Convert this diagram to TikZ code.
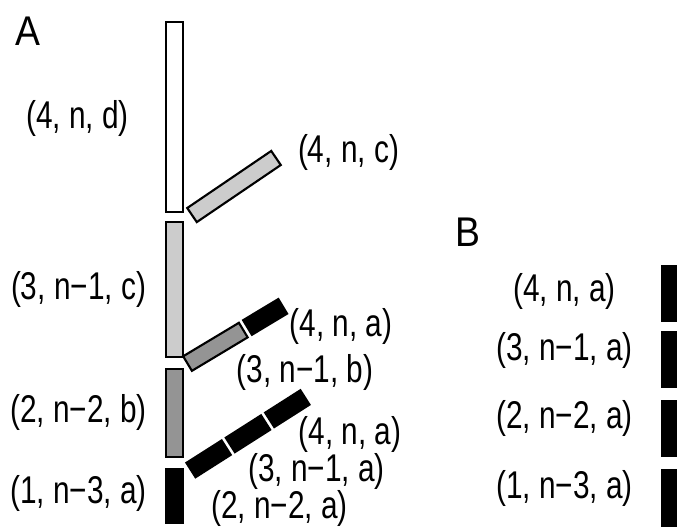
\documentclass[tikz,border=0pt]{standalone}
\usepackage{fontspec}
\setmainfont{Liberation Sans}
\newfontfamily\lblfont{Liberation Sans}[FakeStretch=0.77]
\newfontfamily\panelfont{Liberation Sans}[FakeStretch=0.9]
\usepackage{xcolor}
\usepackage{tikz}
\usetikzlibrary{calc}
\definecolor{lgray}{gray}{0.80}
\definecolor{mgray}{gray}{0.58}

\begin{document}
\begin{tikzpicture}[x=0.01cm, y=-0.01cm,
    bar/.style={draw, line width=0.6pt, inner sep=0pt, outer sep=0pt, minimum width=0.17cm},
    slant/.style={draw, line width=0.6pt, inner sep=0pt, outer sep=0pt, minimum height=0.17cm},
    lbl/.style={inner sep=0pt, font=\fontsize{11}{13}\lblfont},
    panel/.style={inner sep=0pt, font=\fontsize{11.8}{13}\panelfont}]
  \useasboundingbox (0,0) rectangle (677,526);

  % panel A: the column
  \node[panel] (pa) at (28,31) {A};
  \node[bar, fill=white, minimum height=1.90cm] (d4) at (174.5,117) {};
  \node[bar, fill=lgray, minimum height=1.35cm] (c3) at (174.5,289.5) {};
  \node[bar, fill=mgray, minimum height=0.88cm] (b2) at (174.5,413) {};
  \node[bar, fill=black, minimum height=0.54cm] (a1) at (174.5,496) {};

  % branches
  \node[slant, fill=lgray, minimum width=1.015cm, rotate=34.2] (c4) at (234,186.5) {};
  \node[slant, fill=mgray, minimum width=0.65cm, rotate=31] (b3) at (215.4,346.8) {};
  \node[slant, fill=black, minimum width=0.41cm, rotate=31] (a4) at (265.1,316.9) {};
  \foreach \k in {0,1,2} {
    \node[slant, fill=black, minimum width=0.417cm, rotate=32.5] (p\k)
      at ({191+(20.85+\k*46.7)*0.843}, {470-(20.85+\k*46.7)*0.537}) {};
  }

  \node[lbl] (ld4) at (77.5,118) {(4, n, d)};
  \node[lbl] (lc3) at (78.5,289) {(3, n−1, c)};
  \node[lbl] (lb2) at (78.5,412) {(2, n−2, b)};
  \node[lbl] (la1) at (78.5,493) {(1, n−3, a)};
  \node[lbl] (lc4) at (348.5,152) {(4, n, c)};
  \node[lbl] (la4) at (341,326) {(4, n, a)};
  \node[lbl] (lb3) at (305,372) {(3, n−1, b)};
  \node[lbl] (lp2) at (350,434) {(4, n, a)};
  \node[lbl] (lp1) at (316.5,471) {(3, n−1, a)};
  \node[lbl] (lp0) at (279.5,508.5) {(2, n−2, a)};

  % panel B
  \node[panel] (pb) at (467.5,232) {B};
  \foreach \i/\y/\ty/\txt in {4/293.5/291/{(4, n, a)}, 3/359.5/350/{(3, n−1, a)},
                              2/428.5/418/{(2, n−2, a)}, 1/498/488/{(1, n−3, a)}} {
    \node[bar, fill=black, minimum width=0.15cm, minimum height=0.55cm] (q\i) at (669.5,\y) {};
    \node[lbl] (lq\i) at (564.5,\ty) {\txt};
  }
\end{tikzpicture}
\end{document}
